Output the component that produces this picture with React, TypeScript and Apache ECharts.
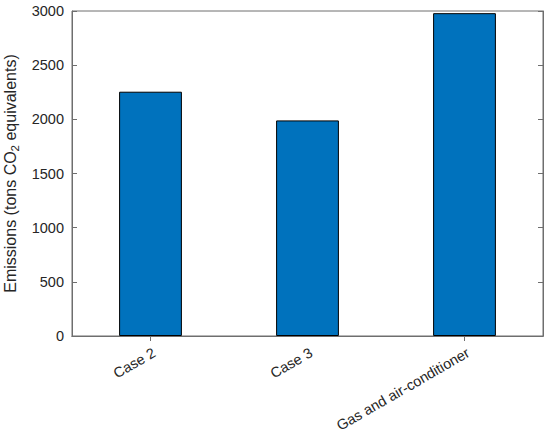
import React, { useEffect, useRef } from "react";
import * as echarts from "echarts";

const categories = ["Case 2", "Case 3", "Gas and air-conditioner"];
const emissions = [2255, 1990, 2980];
const yTicks = { min: 0, max: 3000, interval: 500 };

export default function App() {
  const ref = useRef<HTMLDivElement>(null);
  useEffect(() => {
    const chart = echarts.init(ref.current!, null, { renderer: "svg" });
    const axisColor = "#6e6e6e";
    const textColor = "#262626";
    const font = "Liberation Sans, Arial, Helvetica, sans-serif";
    chart.setOption({
      animation: false,
      backgroundColor: "#ffffff",
      grid: {
        left: 72,
        right: 7,
        top: 11,
        bottom: 99,
        show: true,
        borderColor: axisColor,
        borderWidth: 1,
        outerBoundsMode: "none",
        containLabel: false,
      },
      xAxis: [
        {
          type: "category",
          data: categories,
          position: "bottom",
          axisLine: { show: true, lineStyle: { color: axisColor, width: 1 } },
          axisTick: { show: true, inside: true, alignWithLabel: true, length: 5, lineStyle: { color: axisColor } },
          axisLabel: {
            rotate: 30,
            color: textColor,
            fontSize: 14.5,
            fontFamily: font,
            margin: 9,
            interval: 0,
            verticalAlign: "top",
          },
        },
        {
          type: "category",
          data: categories,
          position: "top",
          axisLine: { show: true, lineStyle: { color: axisColor, width: 1 } },
          axisTick: { show: true, inside: true, alignWithLabel: true, length: 5, lineStyle: { color: axisColor } },
          axisLabel: { show: false },
        },
      ],
      yAxis: [
        {
          type: "value",
          min: yTicks.min,
          max: yTicks.max,
          interval: yTicks.interval,
          position: "left",
          splitLine: { show: false },
          axisLine: { show: true, lineStyle: { color: axisColor, width: 1 } },
          axisTick: { show: true, inside: true, length: 5, lineStyle: { color: axisColor } },
          axisLabel: {
            color: textColor,
            fontSize: 14.5,
            fontFamily: font,
            margin: 8,
            formatter: (v: number) => String(v),
          },
          name: "{a|Emissions (tons CO}{s|2}{a| equivalents)}",
          nameLocation: "middle",
          nameRotate: 90,
          nameGap: 46,
          nameTextStyle: {
            rich: {
              a: { fontSize: 16, fontFamily: font, color: textColor, lineHeight: 20, verticalAlign: "middle" },
              s: { fontSize: 11.5, fontFamily: font, color: textColor, lineHeight: 20, verticalAlign: "bottom", padding: [10, 0, 0, 0] },
            },
          },
        },
        {
          type: "value",
          min: yTicks.min,
          max: yTicks.max,
          interval: yTicks.interval,
          position: "right",
          splitLine: { show: false },
          axisLine: { show: true, lineStyle: { color: axisColor, width: 1 } },
          axisTick: { show: true, inside: true, length: 5, lineStyle: { color: axisColor } },
          axisLabel: { show: false },
        },
      ],
      series: [
        {
          type: "bar",
          data: emissions,
          barWidth: "40%",
          itemStyle: { color: "#0072BD", borderColor: "#000000", borderWidth: 1 },
        },
      ],
    });
    return () => chart.dispose();
  }, []);
  return <div ref={ref} style={{ width: 550, height: 435, position: "absolute", left: 0, top: 0 }} />;
}
